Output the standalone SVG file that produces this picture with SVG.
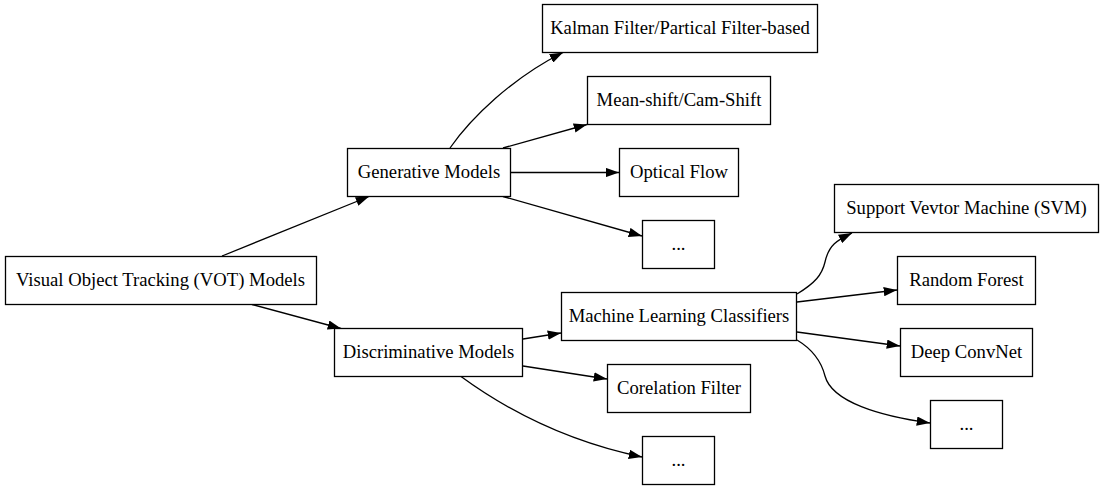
<svg xmlns="http://www.w3.org/2000/svg" width="1104" height="491" viewBox="0 0 1104 491">
<style>
.n rect{fill:#fff;stroke:#000;stroke-width:1.3}
.n text{font-family:'Liberation Serif',serif;font-size:18.67px;fill:#000;text-anchor:middle}
.e path{fill:none;stroke:#000;stroke-width:1.3;marker-end:url(#ah)}
</style>
<defs>
<marker id="ah" viewBox="0 0 13.3 9.4" refX="13.3" refY="4.7" markerWidth="13.3" markerHeight="9.4" orient="auto" markerUnits="userSpaceOnUse">
<path d="M0,0 L13.3,4.7 L0,9.4 z" fill="#000"/>
</marker>
</defs>
<rect width="1104" height="491" fill="#fff"/>
<g id="connectors" class="e">
<path d="M222,256 L369,196.5"/>
<path d="M252,304.5 L341,328.5"/>
<path d="M450,148 C471,118 512,78 563,52.5"/>
<path d="M503,148 L587,124.5"/>
<path d="M510,172.5 L619,172.5"/>
<path d="M503,196.5 L642,236"/>
<path d="M523,339 L561,333"/>
<path d="M523,366 L607,379"/>
<path d="M461,376.5 C500,405 560,440 642,457"/>
<path d="M797,294 C815,283 822,275 825,262 C829,244 838,240 852,233"/>
<path d="M797,302 L897,290"/>
<path d="M797,332 L900,346"/>
<path d="M797,340 C812,349 821,360 825,376 C832,402 880,416 930,423"/>
</g>
<g id="vot" class="n"><rect x="5.5" y="256.5" width="311" height="48"/><text x="160.5" y="286" font-family="Liberation Serif">Visual Object Tracking (VOT) Models</text></g>
<g id="generative" class="n"><rect x="347.5" y="148.5" width="163" height="48"/><text x="429" y="178" font-family="Liberation Serif">Generative Models</text></g>
<g id="discriminative" class="n"><rect x="334.5" y="328.5" width="188" height="48"/><text x="428.5" y="358" font-family="Liberation Serif">Discriminative Models</text></g>
<g id="kalman" class="n"><rect x="542.5" y="4.5" width="275" height="48"/><text x="680" y="34" font-family="Liberation Serif">Kalman Filter/Partical Filter-based</text></g>
<g id="meanshift" class="n"><rect x="587.5" y="76.5" width="183" height="48"/><text x="679" y="106" font-family="Liberation Serif">Mean-shift/Cam-Shift</text></g>
<g id="opticalflow" class="n"><rect x="619.5" y="148.5" width="119" height="48"/><text x="679" y="178" font-family="Liberation Serif">Optical Flow</text></g>
<g id="gen_more" class="n"><rect x="642.5" y="220.5" width="72" height="48"/><text x="678.5" y="250" font-family="Liberation Serif">...</text></g>
<g id="mlc" class="n"><rect x="561.5" y="292.5" width="235" height="48"/><text x="679" y="322" font-family="Liberation Serif">Machine Learning Classifiers</text></g>
<g id="corelation" class="n"><rect x="607.5" y="364.5" width="143" height="48"/><text x="679" y="394" font-family="Liberation Serif">Corelation Filter</text></g>
<g id="disc_more" class="n"><rect x="642.5" y="436.5" width="72" height="48"/><text x="678.5" y="466" font-family="Liberation Serif">...</text></g>
<g id="svm" class="n"><rect x="834.5" y="184.5" width="264" height="48"/><text x="966.5" y="214" font-family="Liberation Serif">Support Vevtor Machine (SVM)</text></g>
<g id="randomforest" class="n"><rect x="897.5" y="256.5" width="138" height="48"/><text x="966.5" y="286" font-family="Liberation Serif">Random Forest</text></g>
<g id="deepconvnet" class="n"><rect x="900.5" y="328.5" width="132" height="48"/><text x="966.5" y="358" font-family="Liberation Serif">Deep ConvNet</text></g>
<g id="mlc_more" class="n"><rect x="930.5" y="400.5" width="72" height="48"/><text x="966.5" y="430" font-family="Liberation Serif">...</text></g>
</svg>
